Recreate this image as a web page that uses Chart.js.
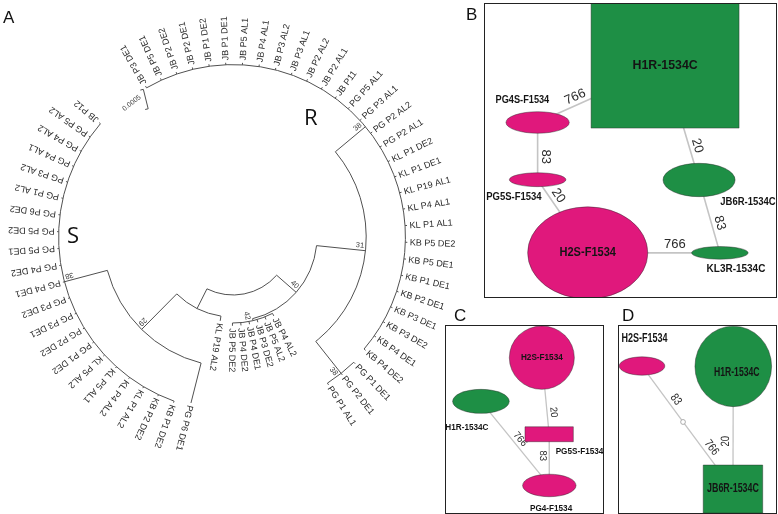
<!DOCTYPE html>
<html>
<head>
<meta charset="utf-8">
<script src="https://cdn.jsdelivr.net/npm/chart.js@4.4.1/dist/chart.umd.min.js"></script>
<style>
  body { margin: 0; background: #fff; }
  #fig { position: relative; width: 778px; height: 514px; overflow: hidden; background: #fff; }
  #fig canvas { position: absolute; }
</style>
</head>
<body>
<div id="fig">
  <canvas id="tree" width="778" height="514" style="left:0;top:0"></canvas>
  <canvas id="netB" width="293" height="295" style="left:484px;top:3px"></canvas>
  <canvas id="netC" width="159" height="189" style="left:445px;top:325px"></canvas>
  <canvas id="netD" width="159" height="189" style="left:618px;top:325px"></canvas>
</div>
<script>
/* ===== A: circular tree, tips in drawing order on a fine angular grid ('' = empty slot) ===== */
const leafNames = [
  'JB P3 DE1', '', 'JB P5 DE1', '', 'JB P2 DE2', '', 'JB P2 DE1', '', 'JB P1 DE2', '',
  'JB P1 DE1', '', 'JB P5 AL1', '', 'JB P4 AL1', '', 'JB P3 AL2', '', 'JB P3 AL1', '',
  'JB P2 AL2', '', 'JB P2 AL1', '', 'JB P11', '', 'PG P5 AL1', '', 'PG P3 AL1', '',
  'PG P2 AL2', '', 'PG P2 AL1', '', 'KL P1 DE2', '', 'KL P1 DE1', '', 'KL P19 AL1', '',
  'KL P4 AL1', '', 'KL P1 AL1', '', 'KB P5 DE2', '', 'KB P5 DE1', '', 'KB P1 DE1', '',
  'KB P2 DE1', '', 'KB P3 DE1', '', 'KB P3 DE2', '', 'KB P4 DE1', '', 'KB P4 DE2', '',
  'PG P1 DE1', '', 'PG P2 DE1', '', 'PG P1 AL1', '',
  'JB P4 AL2', '', 'JB P5 AL2', '', 'JB P3 DE2', '', 'JB P4 DE1', '', 'JB P4 DE2', '',
  'JB P5 DE2', '', '',
  'KL P19 AL2', '', 'PG P6 DE1', '',
  'KB P1 DE2', '', 'KB P2 DE2', '', 'KL P1 AL2', '', 'KL P4 AL2', '', 'KL P5 AL1', '',
  'KL P5 AL2', '', 'PG P1 DE2', '', 'PG P2 DE2', '', 'PG P3 DE1', '', 'PG P3 DE2', '',
  'PG P4 DE1', '', 'PG P4 DE2', '', 'PG P5 DE1', '', 'PG P5 DE2', '', 'PG P6 DE2', '',
  'PG P1 AL2', '', 'PG P3 AL2', '', 'PG P4 AL1', '', 'PG P4 AL2', '', 'PG P5 AL2', '',
  'JB P12', '', '', '', '', '', ''
];
// distance of each tip from the centre (substitutions per site), same order as leafNames
const leafDepth = [
  0.00436, null, 0.00436, null, 0.00436, null, 0.00436, null, 0.00436, null,
  0.00436, null, 0.00436, null, 0.00436, null, 0.00436, null, 0.00436, null,
  0.00436, null, 0.00436, null, 0.00436, null, 0.00436, null, 0.00436, null,
  0.00436, null, 0.00436, null, 0.00436, null, 0.00436, null, 0.00436, null,
  0.00436, null, 0.00436, null, 0.00436, null, 0.00436, null, 0.00436, null,
  0.00436, null, 0.00436, null, 0.00436, null, 0.00436, null, 0.00436, null,
  0.0044, null, 0.0044, null, 0.0044, null,
  0.00222, null, 0.00222, null, 0.00222, null, 0.00222, null, 0.00222, null,
  0.00222, null, null,
  0.00212, null, 0.00428, null,
  0.0044, null, 0.0044, null, 0.0044, null, 0.0044, null, 0.0044, null,
  0.0044, null, 0.0044, null, 0.0044, null, 0.0044, null, 0.0044, null,
  0.0044, null, 0.0044, null, 0.0044, null, 0.0044, null, 0.0044, null,
  0.0044, null, 0.0044, null, 0.0044, null, 0.0044, null, 0.0044, null,
  0.0044, null, null, null, null, null, null
];
// internal nodes; children are clade names or [first, last] runs of tips
const cladeNames = ['root', 'B40', 'A31', 'R38', 'PG38', 'JB42', 'P2', 'P1', 'S38'];
const cladeDepth = [0.00145, 0.0021, 0.00333, 0.00431, 0.00435, 0.00215, 0.002, 0.00325, 0.00436];
const cladeChildren = [
  ['B40', 'P2'],
  ['A31', 'JB42'],
  ['R38', 'PG38'],
  [[0, 58]],
  [[60, 64]],
  [[66, 76]],
  [[79, 79], 'P1'],
  [[81, 81], 'S38'],
  [[83, 123]]
];
const cladeSupport = [null, 40, 31, 38, 38, 42, null, 29, 38];
const scaleBarValue = 0.0005;

/* ===== B, C, D: haplotype networks ===== */
const nodesB = ['H1R-1534C', 'PG4S-F1534', 'PG5S-F1534', 'H2S-F1534', 'JB6R-1534C', 'KL3R-1534C'];
const typeB = ['R', 'S', 'S', 'S', 'R', 'R'];
const edgesB = [
  ['PG4S-F1534', 'H1R-1534C', 766],
  ['PG4S-F1534', 'PG5S-F1534', 83],
  ['PG5S-F1534', 'H2S-F1534', 20],
  ['H1R-1534C', 'JB6R-1534C', 20],
  ['JB6R-1534C', 'KL3R-1534C', 83],
  ['H2S-F1534', 'KL3R-1534C', 766]
];
const nodesC = ['H2S-F1534', 'H1R-1534C', 'PG5S-F1534', 'PG4-F1534'];
const typeC = ['S', 'R', 'S', 'S'];
const edgesC = [
  ['H2S-F1534', 'PG5S-F1534', 20],
  ['PG5S-F1534', 'PG4-F1534', 83],
  ['H1R-1534C', 'PG4-F1534', 766]
];
const nodesD = ['H2S-F1534', 'H1R-1534C', 'JB6R-1534C', 'mv'];
const typeD = ['S', 'R', 'R', 'mv'];
const edgesD = [
  ['H2S-F1534', 'mv', 83],
  ['mv', 'JB6R-1534C', 766],
  ['H1R-1534C', 'JB6R-1534C', 20]
];

/* ===== layout and styles (panel units 0-100) ===== */
const FONT = '"Liberation Sans", Arial, sans-serif';
const MAGENTA = '#e0187c';
const GREEN = '#1e8f45';
const LINE = '#505050';
const supportSide = { R38: 1, PG38: -1, A31: 1, B40: 1, JB42: -1, P1: -1, S38: -1 };

const layoutB = {
  'H1R-1534C':  { x: 61.8, y: 21.2, w: 50.5, h: 42.4, shape: 'rect', font: 13, sq: 0.95 },
  'PG4S-F1534': { x: 18.3, y: 40.5, w: 21.6, h: 7.3, font: 10, sq: 0.92, lx: 13.1, ly: 32.9 },
  'PG5S-F1534': { x: 18.3, y: 59.9, w: 19.3, h: 4.7, font: 10, sq: 0.95, lx: 10.2, ly: 65.8 },
  'H2S-F1534':  { x: 35.4, y: 84.7, w: 41.0, h: 31.2, font: 13, sq: 0.85 },
  'JB6R-1534C': { x: 73.4, y: 60.0, w: 24.6, h: 11.3, font: 10, sq: 0.95, lx: 90.1, ly: 67.5 },
  'KL3R-1534C': { x: 80.5, y: 84.7, w: 19.3, h: 4.3, font: 10.5, sq: 0.95, lx: 86.0, ly: 90.3 }
};
const edgeStyleB = [
  { t: 0.32, side: 1 }, { t: 0.6, side: 1 }, { t: 0.28, side: 1 },
  { t: 0.72, side: 1 }, { t: 0.62, side: 1 }, { t: 0.66, side: 1 }
];
const layoutC = {
  'H2S-F1534':  { x: 60.9, y: 17.3, w: 40.9, h: 33.5, font: 9.5, sq: 0.86 },
  'H1R-1534C':  { x: 22.6, y: 40.4, w: 35.6, h: 12.7, font: 9.5, sq: 0.86, lx: 13.8, ly: 54.0 },
  'PG5S-F1534': { x: 65.5, y: 57.8, w: 30.4, h: 7.9, shape: 'rect', font: 9.5, sq: 0.86, lx: 84.6, ly: 67.0 },
  'PG4-F1534':  { x: 65.6, y: 84.9, w: 33.6, h: 11.9, font: 9.5, sq: 0.86, lx: 66.7, ly: 96.8 }
};
const edgeStyleC = [{ t: 0.72, side: 1 }, { t: 0.42, side: -1 }, { t: 0.5, side: 1 }];
const layoutD = {
  'H2S-F1534':  { x: 15.1, y: 21.7, w: 28.7, h: 9.7, font: 12, sq: 0.75, lx: 16.7, ly: 7.4 },
  'H1R-1534C':  { x: 72.5, y: 21.9, w: 48.2, h: 42.6, font: 12, sq: 0.72, lx: 74.7, ly: 25.2 },
  'JB6R-1534C': { x: 72.3, y: 86.8, w: 37.4, h: 25.4, shape: 'rect', font: 12, sq: 0.74 },
  'mv':         { x: 40.9, y: 51.3, w: 3.0, h: 2.6, label: false }
};
const edgeStyleD = [{ t: 0.68, side: 1 }, { t: 0.45, side: 1 }, { t: 0.61, side: 1 }];

/* ===== A: tree drawn through the radial scale ===== */
const treeDraw = {
  id: 'treeDraw',
  afterDatasetsDraw(chart) {
    const s = chart.scales.r, ctx = chart.ctx;
    const cx = s.xCenter, cy = s.yCenter;
    const first = s.getIndexAngle(0);
    const slotAngle = i => {
      let a = s.getIndexAngle(i);
      if (a < first - 1e-6) a += Math.PI * 2;
      return a - Math.PI / 2;
    };
    const rad = v => s.getDistanceFromCenterForValue(v);
    const at = (a, r) => [cx + Math.cos(a) * r, cy + Math.sin(a) * r];
    const ci = n => cladeNames.indexOf(n);
    // expand children into tip indices / clade names
    const kidsOf = i => cladeChildren[i].flatMap(k => {
      if (typeof k === 'string') return [k];
      const out = [];
      for (let j = k[0]; j <= k[1]; j++) if (leafNames[j]) out.push(j);
      return out;
    });
    const depthOf = k => typeof k === 'number' ? leafDepth[k] : cladeDepth[ci(k)];
    const angleOf = k => {
      if (typeof k === 'number') return slotAngle(k);
      const as = kidsOf(ci(k)).map(angleOf);
      return (Math.min(...as) + Math.max(...as)) / 2;
    };

    ctx.save();
    ctx.strokeStyle = LINE;
    ctx.lineWidth = 1;
    cladeNames.forEach((name, i) => {
      const r0 = rad(cladeDepth[i]);
      const kids = kidsOf(i);
      const as = kids.map(angleOf);
      ctx.beginPath();
      ctx.arc(cx, cy, r0, Math.min(...as), Math.max(...as));
      ctx.stroke();
      kids.forEach((k, j) => {
        const p = at(as[j], r0), q = at(as[j], rad(depthOf(k)));
        ctx.beginPath();
        ctx.moveTo(p[0], p[1]);
        ctx.lineTo(q[0], q[1]);
        ctx.stroke();
      });
    });

    // tip labels
    ctx.fillStyle = '#2a2a2a';
    ctx.font = '9px ' + FONT;
    ctx.textBaseline = 'middle';
    leafNames.forEach((n, i) => {
      if (!n) return;
      const a = slotAngle(i);
      const p = at(a, rad(leafDepth[i]) + 2.5);
      const deg = a * 180 / Math.PI;
      const flip = deg > 90 && deg < 230;
      ctx.save();
      ctx.translate(p[0], p[1]);
      ctx.rotate(flip ? a - Math.PI : a);
      ctx.textAlign = flip ? 'right' : 'left';
      ctx.fillText(n, 0, 0.5);
      ctx.restore();
    });

    // bootstrap values
    ctx.font = '7.5px ' + FONT;
    ctx.fillStyle = '#3a3a3a';
    cladeNames.forEach((name, i) => {
      if (cladeSupport[i] == null) return;
      const a = angleOf(name);
      const p = at(a, rad(cladeDepth[i]) - 2);
      const side = supportSide[name] || 1;
      ctx.save();
      ctx.translate(p[0], p[1]);
      ctx.rotate(a);
      ctx.textAlign = 'right';
      ctx.textBaseline = side > 0 ? 'bottom' : 'top';
      ctx.fillText(String(cladeSupport[i]), 0, side > 0 ? -1 : 1);
      ctx.restore();
    });

    // scale bar in the gap of the circle
    const len = rad(scaleBarValue) - rad(0);
    const c = at(slotAngle(129.2), rad(0.00408));
    const tilt = 76 * Math.PI / 180;
    const dx = Math.cos(tilt) * len / 2, dy = Math.sin(tilt) * len / 2;
    ctx.strokeStyle = LINE;
    ctx.beginPath();
    ctx.moveTo(c[0] - dx - 3, c[1] - dy + 0.7);
    ctx.lineTo(c[0] - dx, c[1] - dy);
    ctx.lineTo(c[0] + dx, c[1] + dy);
    ctx.lineTo(c[0] + dx - 3, c[1] + dy + 0.7);
    ctx.stroke();
    ctx.save();
    ctx.translate(c[0] - 14, c[1] + 4);
    ctx.rotate(-38 * Math.PI / 180);
    ctx.font = '7px ' + FONT;
    ctx.textAlign = 'center';
    ctx.textBaseline = 'middle';
    ctx.fillText(scaleBarValue.toFixed(4), 0, 0);
    ctx.restore();

    // panel letters and group letters
    ctx.fillStyle = '#111';
    ctx.textAlign = 'left';
    ctx.textBaseline = 'alphabetic';
    ctx.font = '17px ' + FONT;
    ctx.fillText('A', 3, 23);
    ctx.fillText('B', 466, 20);
    ctx.fillText('C', 454, 321);
    ctx.fillText('D', 622, 321);
    ctx.font = '22px "Open Sans", sans-serif';
    ctx.fillText('S', 67, 243);
    ctx.fillText('R', 304, 125);
    ctx.restore();
  }
};

new Chart(document.getElementById('tree'), {
  type: 'radar',
  data: {
    labels: leafNames,
    datasets: [{
      data: leafDepth,
      borderColor: 'rgba(0,0,0,0)',
      backgroundColor: 'rgba(0,0,0,0)',
      borderWidth: 0,
      pointRadius: 0,
      pointHitRadius: 0,
      fill: false
    }]
  },
  options: {
    responsive: false,
    animation: false,
    events: [],
    layout: { padding: { left: 13, right: 325, top: 17, bottom: 57 } },
    plugins: { legend: { display: false }, tooltip: { enabled: false } },
    scales: {
      r: {
        min: 0,
        max: 0.0055,
        startAngle: -30.1,
        grid: { display: false },
        angleLines: { display: false },
        ticks: { display: false },
        pointLabels: { display: false }
      }
    }
  },
  plugins: [treeDraw]
});

/* ===== networks ===== */
function drawText(ctx, text, x, y, size, sq, bold) {
  ctx.save();
  ctx.translate(x, y);
  ctx.scale(sq || 1, 1);
  ctx.font = (bold ? 'bold ' : '') + size + 'px ' + FONT;
  ctx.fillText(text, 0, 0);
  ctx.restore();
}

function makeNetwork(id, names, types, edges, layout, edgeStyle, edgeFont, edgeSq, edgeWidth) {
  const pt = n => ({ x: layout[n].x, y: layout[n].y });
  const netDraw = {
    id: 'netDraw',
    afterDatasetsDraw(chart) {
      const ctx = chart.ctx, sx = chart.scales.x, sy = chart.scales.y, area = chart.chartArea;
      const X = v => sx.getPixelForValue(v), Y = v => sy.getPixelForValue(v);
      ctx.save();
      ctx.beginPath();
      ctx.rect(area.left, area.top, area.right - area.left, area.bottom - area.top);
      ctx.clip();

      // edge labels (number of mutational steps)
      ctx.fillStyle = '#2b2b2b';
      ctx.textAlign = 'center';
      edges.forEach((e, i) => {
        const st = edgeStyle[i];
        const x0 = X(layout[e[0]].x), y0 = Y(layout[e[0]].y);
        const x1 = X(layout[e[1]].x), y1 = Y(layout[e[1]].y);
        const px = x0 + (x1 - x0) * st.t, py = y0 + (y1 - y0) * st.t;
        let a = Math.atan2(y1 - y0, x1 - x0);
        if (a > Math.PI / 2 + 1e-6) a -= Math.PI;
        if (a <= -Math.PI / 2 + 1e-6) a += Math.PI;
        ctx.save();
        ctx.translate(px, py);
        ctx.rotate(a);
        ctx.textBaseline = st.side > 0 ? 'bottom' : 'top';
        drawText(ctx, String(e[2]), 0, st.side > 0 ? -1.5 : 1.5, edgeFont, edgeSq, false);
        ctx.restore();
      });

      // nodes
      ctx.lineWidth = 0.8;
      names.forEach((n, i) => {
        const L = layout[n];
        const px = X(L.x), py = Y(L.y);
        const hw = Math.abs(X(L.x + L.w / 2) - px), hh = Math.abs(Y(L.y + L.h / 2) - py);
        ctx.fillStyle = types[i] === 'R' ? GREEN : types[i] === 'S' ? MAGENTA : '#fff';
        ctx.strokeStyle = types[i] === 'mv' ? '#999' : 'rgba(40,40,40,0.55)';
        ctx.beginPath();
        if (L.shape === 'rect') ctx.rect(px - hw, py - hh, hw * 2, hh * 2);
        else ctx.ellipse(px, py, hw, hh, 0, 0, Math.PI * 2);
        ctx.fill();
        ctx.stroke();
      });
      ctx.fillStyle = '#141414';
      ctx.textAlign = 'center';
      ctx.textBaseline = 'middle';
      names.forEach(n => {
        const L = layout[n];
        if (L.label === false) return;
        const lx = L.lx != null ? L.lx : L.x, ly = L.ly != null ? L.ly : L.y;
        drawText(ctx, n, X(lx), Y(ly), L.font, L.sq, true);
      });
      ctx.restore();

      // frame
      ctx.save();
      ctx.strokeStyle = '#222';
      ctx.lineWidth = 1;
      ctx.strokeRect(area.left + 0.5, area.top + 0.5, area.right - area.left - 1, area.bottom - area.top - 1);
      ctx.restore();
    }
  };

  new Chart(document.getElementById(id), {
    type: 'scatter',
    data: {
      datasets: edges.map(e => ({
        data: [pt(e[0]), pt(e[1])],
        showLine: true,
        borderColor: '#c4c4c4',
        borderWidth: edgeWidth,
        pointRadius: 0,
        pointHitRadius: 0
      }))
    },
    options: {
      responsive: false,
      animation: false,
      events: [],
      layout: { padding: 0 },
      plugins: { legend: { display: false }, tooltip: { enabled: false } },
      scales: {
        x: { type: 'linear', min: 0, max: 100, display: false },
        y: { type: 'linear', min: 0, max: 100, reverse: true, display: false }
      }
    },
    plugins: [netDraw]
  });
}

makeNetwork('netB', nodesB, typeB, edgesB, layoutB, edgeStyleB, 13, 1, 1.6);
makeNetwork('netC', nodesC, typeC, edgesC, layoutC, edgeStyleC, 10, 0.95, 1.3);
makeNetwork('netD', nodesD, typeD, edgesD, layoutD, edgeStyleD, 12, 0.8, 1.3);
</script>
</body>
</html>
